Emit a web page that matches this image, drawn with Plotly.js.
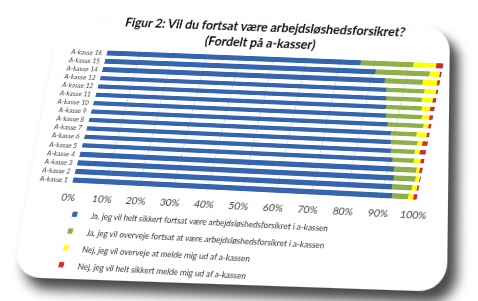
<!DOCTYPE html>
<html>
<head>
<meta charset="utf-8">
<script src="https://cdn.plot.ly/plotly-3.0.1.min.js"></script>
<style>
  html, body { margin:0; padding:0; width:478px; height:301px; overflow:hidden; background:#ffffff; }
  #paper { position:absolute; left:0; top:0; width:400px; height:260px; background:#ffffff;
           border-radius:26px; box-shadow: 9px 10px 11px rgba(0,0,0,0.72); transform-origin:0 0; }
  #chart { position:absolute; left:0; top:0; width:574px; height:361px; transform-origin:0 0; }
</style>
</head>
<body>
<div id="paper"></div>
<div id="chart"></div>
<script>
// ---- data ----
var categories = ['A-kasse 1','A-kasse 2','A-kasse 3','A-kasse 4','A-kasse 5','A-kasse 6','A-kasse 7','A-kasse 8',
                  'A-kasse 9','A-kasse 10','A-kasse 11','A-kasse 12','A-kasse 13','A-kasse 14','A-kasse 15','A-kasse 16'];
var jaSikkert   = [93, 92.5, 92.5, 92, 91, 90, 89.5, 89, 87.5, 86.5, 86, 85.5, 85, 84, 81, 76];
var jaOverveje  = [4.5, 5.5, 6, 6.3, 6, 6.8, 7.6, 7.3, 10.3, 10.3, 10.4, 10.4, 11, 11.2, 15.5, 15.5];
var nejOverveje = [1.5, 1.5, 1.2, 1, 2, 1.6, 1.5, 2.9, 1.5, 2.1, 2.4, 3, 3.4, 4.1, 3, 6.5];
var nejSikkert  = [1, 0.5, 0.3, 0.7, 1, 1.6, 1.4, 0.8, 0.7, 1.1, 1.2, 1.1, 0.6, 0.7, 0.5, 2];
var seriesNames = ['Ja, jeg vil helt sikkert fortsat være arbejdsløshedsforsikret i a-kassen',
                   'Ja, jeg vil overveje fortsat at være arbejdsløshedsforsikret i a-kassen',
                   'Nej, jeg vil overveje at melde mig ud af a-kassen',
                   'Nej, jeg vil helt sikkert melde mig ud af a-kassen'];
var xTickVals = [0,10,20,30,40,50,60,70,80,90,100];
var titleText = 'Figur 2: Vil du fortsat være arbejdsløshedsforsikret?<br>(Fordelt på a-kasser)';

// ---- styles ----
var colors = ['#3565ae', '#8db04b', '#ffff00', '#c8302c'];
var FONT = 'Lato, "Open Sans", sans-serif';
var W = 574, H = 361, ML = 84, MT = 60, PW = 408, PH = 161;

var series = [jaSikkert, jaOverveje, nejOverveje, nejSikkert];
var data = [];
series.forEach(function(vals, i){
  data.push({ type:'bar', orientation:'h', y:categories, x:vals, name:seriesNames[i], legendgroup:'g'+i,
              showlegend:false, marker:{color:colors[i], line:{width:0}}, hoverinfo:'skip' });
});
// legend keys (small square swatches, as in the original)
series.forEach(function(vals, i){
  data.push({ type:'scatter', mode:'markers', x:[null], y:[null], name:seriesNames[i], legendgroup:'g'+i,
              showlegend:true, marker:{color:colors[i], symbol:'square', size:6}, hoverinfo:'skip' });
});

var layout = {
  width:W, height:H,
  margin:{l:ML, r:W-ML-PW, t:MT, b:H-MT-PH, pad:0},
  paper_bgcolor:'rgba(0,0,0,0)', plot_bgcolor:'rgba(0,0,0,0)',
  barmode:'stack', bargap:0.46,
  font:{family:FONT, color:'#404040'},
  title:{text:titleText, font:{family:FONT, size:15, color:'#111111', weight:'bold'},
         xref:'container', x:268/W, xanchor:'center', yref:'container', y:1-32/H, yanchor:'middle'},
  xaxis:{range:[0,100], tickvals:xTickVals, ticktext:xTickVals.map(function(v){return v+'%';}),
         showgrid:true, gridcolor:'#d9d9d9', gridwidth:1, zeroline:false, showline:false,
         ticks:'', tickfont:{family:FONT, size:12, color:'#404040'}, ticklabelstandoff:6, fixedrange:true},
  yaxis:{type:'category', categoryorder:'array', categoryarray:categories, tickmode:'array', tickvals:categories,
         showgrid:false, zeroline:false, showline:false, ticks:'',
         tickfont:{family:FONT, size:8, color:'#404040'}, ticklabelstandoff:5, fixedrange:true},
  showlegend:true,
  legend:{orientation:'v', traceorder:'normal', itemsizing:'trace', x:-0.017, xanchor:'left', y:-0.12, yanchor:'top',
          font:{family:FONT, size:9.5, color:'#303030'}, bgcolor:'rgba(0,0,0,0)', itemclick:false}
};

// ---- projective placement (the chart is photographed on a tilted sheet) ----
function homography(src, dst){
  var A=[], b=[];
  for (var i=0;i<4;i++){
    var x=src[i][0], y=src[i][1], u=dst[i][0], v=dst[i][1];
    A.push([x,y,1,0,0,0,-u*x,-u*y]); b.push(u);
    A.push([0,0,0,x,y,1,-v*x,-v*y]); b.push(v);
  }
  var n=8;
  for (var c=0;c<n;c++){
    var p=c; for (var r=c+1;r<n;r++) if (Math.abs(A[r][c])>Math.abs(A[p][c])) p=r;
    var t=A[c]; A[c]=A[p]; A[p]=t; var tb=b[c]; b[c]=b[p]; b[p]=tb;
    for (var r2=c+1;r2<n;r2++){
      var f=A[r2][c]/A[c][c];
      for (var k=c;k<n;k++) A[r2][k]-=f*A[c][k];
      b[r2]-=f*b[c];
    }
  }
  var h=new Array(n);
  for (var i2=n-1;i2>=0;i2--){
    var s=b[i2]; for (var k2=i2+1;k2<n;k2++) s-=A[i2][k2]*h[k2];
    h[i2]=s/A[i2][i2];
  }
  return 'matrix3d('+[h[0],h[3],0,h[6], h[1],h[4],0,h[7], 0,0,1,0, h[2],h[5],0,1].join(',')+')';
}
var rowTop = MT + PH*0.5/16, rowBot = MT + PH*15.5/16;
document.getElementById('chart').style.transform = homography(
  [[ML,rowTop],[ML+PW,rowTop],[ML,rowBot],[ML+PW,rowBot]],
  [[107,53],[443,66],[73,180],[417,197]]);
document.getElementById('paper').style.transform = homography(
  [[0,0],[400,0],[0,260],[400,260]],
  [[60,18],[450,27],[12,277],[447,292]]);

Plotly.newPlot('chart', data, layout, {staticPlot:true, displayModeBar:false});
</script>
</body>
</html>
